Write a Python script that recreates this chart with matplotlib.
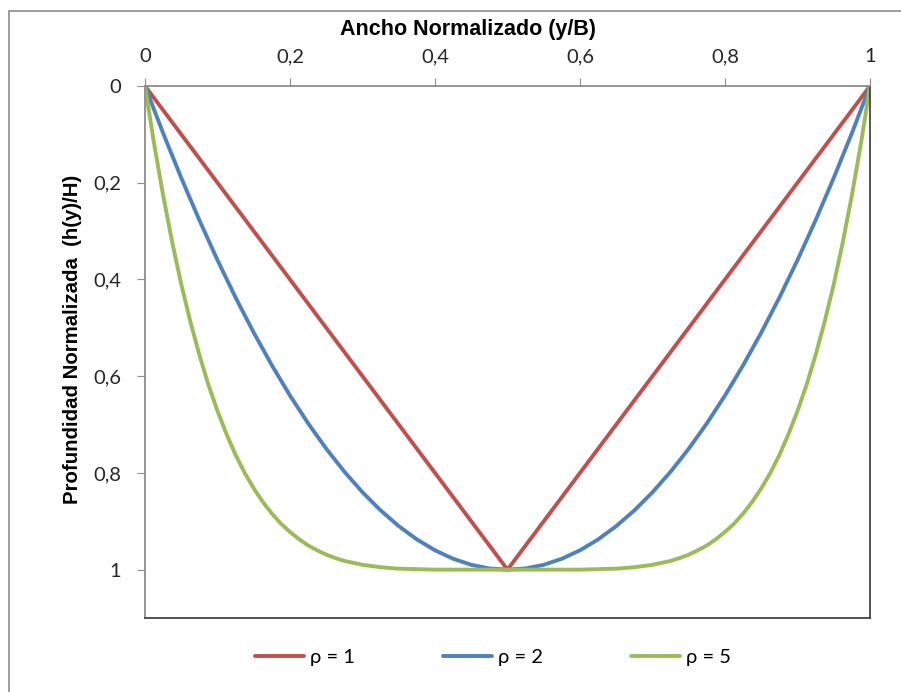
import matplotlib
matplotlib.use("Agg")
import matplotlib.pyplot as plt
from matplotlib.patches import Rectangle

# y/B positions and h(y)/H depths
x_r1 = [0, 0.5, 1]
d_r1 = [0, 1, 0]

x_r2 = [0, 0.025, 0.05, 0.075, 0.1, 0.125, 0.15, 0.175, 0.2, 0.225, 0.25,
        0.275, 0.3, 0.325, 0.35, 0.375, 0.4, 0.425, 0.45, 0.475, 0.5,
        0.525, 0.55, 0.575, 0.6, 0.625, 0.65, 0.675, 0.7, 0.725, 0.75,
        0.775, 0.8, 0.825, 0.85, 0.875, 0.9, 0.925, 0.95, 0.975, 1]
d_r2 = [0, 0.0975, 0.19, 0.2775, 0.36, 0.4375, 0.51, 0.5775, 0.64, 0.6975,
        0.75, 0.7975, 0.84, 0.8775, 0.91, 0.9375, 0.96, 0.9775, 0.99, 0.9975,
        1.0,
        0.9975, 0.99, 0.9775, 0.96, 0.9375, 0.91, 0.8775, 0.84, 0.7975, 0.75,
        0.6975, 0.64, 0.5775, 0.51, 0.4375, 0.36, 0.2775, 0.19, 0.0975, 0]

x_r5 = [0, 0.0125, 0.025, 0.0375, 0.05, 0.0625, 0.075, 0.0875, 0.1, 0.1125,
        0.125, 0.1375, 0.15, 0.1625, 0.175, 0.1875, 0.2, 0.2125, 0.225,
        0.2375, 0.25, 0.2625, 0.275, 0.3, 0.325, 0.35, 0.375, 0.4, 0.45, 0.5,
        0.55, 0.6, 0.625, 0.65, 0.675, 0.7, 0.725, 0.7375, 0.75, 0.7625,
        0.775, 0.7875, 0.8, 0.8125, 0.825, 0.8375, 0.85, 0.8625, 0.875,
        0.8875, 0.9, 0.9125, 0.925, 0.9375, 0.95, 0.9625, 0.975, 0.9875, 1]
d_r5 = [0, 0.119, 0.226, 0.323, 0.410, 0.487, 0.556, 0.618, 0.672, 0.720,
        0.763, 0.800, 0.832, 0.860, 0.884, 0.905, 0.922, 0.937, 0.950,
        0.960, 0.969, 0.976, 0.982, 0.990, 0.995, 0.998, 0.999, 1.0, 1.0, 1.0,
        1.0, 1.0, 0.999, 0.998, 0.995, 0.990, 0.982, 0.976, 0.969, 0.960,
        0.950, 0.937, 0.922, 0.905, 0.884, 0.860, 0.832, 0.800, 0.763,
        0.720, 0.672, 0.618, 0.556, 0.487, 0.410, 0.323, 0.226, 0.119, 0]

series_labels = ["ρ = 1", "ρ = 2", "ρ = 5"]
colors = ["#C0504D", "#4F81BD", "#9BBB59"]

xticks = [0, 0.2, 0.4, 0.6, 0.8, 1]
xtick_labels = ["0", "0,2", "0,4", "0,6", "0,8", "1"]
yticks = [0, 0.2, 0.4, 0.6, 0.8, 1]
ytick_labels = ["0", "0,2", "0,4", "0,6", "0,8", "1"]

tick_font = "Lato"
bold_font = "Liberation Sans"

fig = plt.figure(figsize=(9.01, 6.92), dpi=100)
# outer chart border (Excel chart area)
fig.patches.append(Rectangle((9 / 901, -0.1), 1.2, 1 - 11 / 692 + 0.1,
                             transform=fig.transFigure, fill=False,
                             edgecolor="#8c8c8c", linewidth=1.2))

ax = fig.add_axes([145 / 901, 1 - 618 / 692, 725 / 901, 532 / 692])

lines = []
for xs, ds, lab, c in zip([x_r1, x_r2, x_r5], [d_r1, d_r2, d_r5],
                          series_labels, colors):
    ln, = ax.plot(xs, ds, color=c, linewidth=2.8, label=lab,
                  solid_joinstyle="round", solid_capstyle="round")
    lines.append(ln)

ax.set_xlim(0, 1)
ax.set_ylim(1.1, 0)
ax.xaxis.tick_top()
ax.set_xticks(xticks, xtick_labels)
ax.set_yticks(yticks, ytick_labels)
ax.tick_params(axis="both", labelsize=14.5, labelfontfamily=tick_font,
               labelcolor="#262626", direction="out", length=6,
               color="#8c8c8c")
ax.tick_params(axis="x", pad=9)
ax.tick_params(axis="y", pad=11)

# zero line at top acts as the x axis
ax.spines["top"].set_color("#8c8c8c")
ax.spines["left"].set_color("#8c8c8c")
ax.spines["right"].set_color("#444444")
ax.spines["bottom"].set_color("#444444")
for s in ax.spines.values():
    s.set_linewidth(1.3)

fig.text(468 / 901, 1 - 30 / 692, "Ancho Normalizado (y/B)", ha="center",
         va="center", fontsize=15.5, fontweight="bold", family=bold_font)
fig.text(73 / 901, 1 - 339 / 692, "Profundidad Normalizada  (h(y)/H)",
         ha="center", va="center", rotation=90, fontsize=14.7,
         fontweight="bold", family=bold_font)

fig.legend(handles=lines, loc="center", bbox_to_anchor=(493 / 901, 1 - 657 / 692),
           ncol=3, frameon=False, handlelength=2.4, handletextpad=0.3,
           columnspacing=4.4, prop={"family": tick_font, "size": 14.5})

fig.savefig("out.png", dpi=100)
